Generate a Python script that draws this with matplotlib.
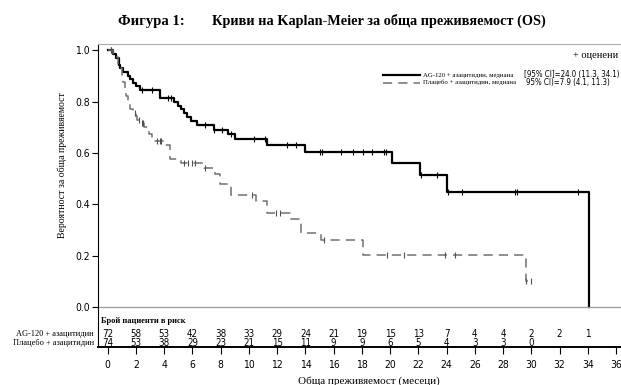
import matplotlib
matplotlib.use('Agg')
import matplotlib.pyplot as plt
from matplotlib.lines import Line2D

# AG-120 + azacitidine: step times and survival after each step
ag_t = [0, 0.4, 0.6, 0.8, 0.9, 1.1, 1.4, 1.6, 1.8, 2.0, 2.3, 3.7, 4.7, 5.0, 5.2, 5.4, 5.6, 5.9, 6.3,
        7.5, 8.5, 9.0, 11.3, 13.95, 20.1, 22.1, 24.0, 34.06]
ag_s = [1.0, 0.986, 0.972, 0.944, 0.93, 0.916, 0.902, 0.888, 0.874, 0.86, 0.845, 0.815, 0.80, 0.785,
        0.77, 0.755, 0.74, 0.725, 0.71, 0.69, 0.675, 0.655, 0.632, 0.605, 0.562, 0.516, 0.45, 0.0]
ag_cens_t = [0.2, 2.4, 3.1, 4.27, 4.5, 6.87, 7.5, 8.1, 8.76, 10.36, 11.17, 12.7, 13.36, 15.06, 15.2,
             16.5, 17.4, 18.1, 18.7, 19.55, 19.7, 22.2, 23.35, 24.1, 25.1, 28.85, 29.0, 33.3]

# Placebo + azacitidine
pl_t = [0, 0.4, 0.5, 0.7, 0.85, 1.0, 1.1, 1.2, 1.3, 1.45, 1.6, 1.8, 2.0, 2.1, 2.3, 2.6, 2.9, 3.1, 3.3,
        4.0, 4.4, 5.2, 6.8, 7.6, 7.95, 8.7, 10.5, 11.3, 12.9, 13.7, 15.1, 18.1, 29.6, 30.0]
pl_s = [1.0, 0.986, 0.973, 0.946, 0.932, 0.905, 0.878, 0.851, 0.824, 0.797, 0.77, 0.757, 0.743, 0.73,
        0.716, 0.702, 0.675, 0.66, 0.647, 0.632, 0.578, 0.56, 0.54, 0.518, 0.48, 0.436, 0.415, 0.365,
        0.343, 0.29, 0.26, 0.204, 0.10, 0.10]
pl_cens_t = [0.2, 1.9, 2.2, 2.4, 2.5, 3.5, 3.7, 3.8, 5.4, 5.7, 6.0, 6.2, 6.9, 10.2, 11.9, 12.2, 15.3,
             19.8, 21.0, 23.9, 24.6, 29.6, 30.0]

risk_times = list(range(0, 37, 2))
ag_risk = [72, 58, 53, 42, 38, 33, 29, 24, 21, 19, 15, 13, 7, 4, 4, 2, 2, 1]
pl_risk = [74, 53, 38, 29, 23, 21, 15, 11, 9, 9, 6, 5, 4, 3, 3, 0]

ag_label = 'AG-120 + азацитидин'
pl_label = 'Плацебо + азацитидин'


def surv_at(ts, ss, t):
    val = ss[0]
    for a, b in zip(ts, ss):
        if a <= t:
            val = b
    return val


narrow = ['Liberation Sans Narrow', 'DejaVu Sans']
serif = ['Liberation Serif', 'DejaVu Serif']
nkw = dict(family=narrow, fontstretch='condensed')

W, H = 621, 385
fig = plt.figure(figsize=(6.21, 3.85), dpi=100)
ax = fig.add_axes([98.3 / W, 1 - 347.3 / H, (640 - 98.3) / W, (347.3 - 44.3) / H])
ax.set_xlim(-0.67, 37.7)
ax.set_ylim(-0.157, 1.024)

ax.step(ag_t, ag_s, where='post', color='black', lw=1.6)
ax.step(pl_t, pl_s, where='post', color='#707070', lw=1.1, dashes=(6, 4))
ax.plot(ag_cens_t, [surv_at(ag_t, ag_s, t) for t in ag_cens_t], ls='none', marker='|',
        ms=5, mew=0.8, color='black')
ax.plot(pl_cens_t, [surv_at(pl_t, pl_s, t) for t in pl_cens_t], ls='none', marker='|',
        ms=5, mew=0.8, color='#505050')

ax.axhline(0, color='#999999', lw=0.9)

ax.spines['right'].set_visible(False)
ax.spines['top'].set_color('#aaaaaa')
ax.spines['left'].set_linewidth(0.8)
ax.spines['bottom'].set_linewidth(1.4)

ax.set_yticks([0, 0.2, 0.4, 0.6, 0.8, 1.0])
ax.set_yticklabels(['%.1f' % v for v in [0, 0.2, 0.4, 0.6, 0.8, 1.0]])
ax.set_xticks(risk_times)
ax.set_xticklabels([str(t) for t in risk_times])
ax.tick_params(axis='both', direction='out', length=4, width=0.8, labelsize=7.5, pad=2)
ax.tick_params(axis='x', length=5, pad=4)
for lab in ax.get_xticklabels() + ax.get_yticklabels():
    lab.set_family(narrow)
    lab.set_fontstretch('condensed')

# number at risk table inside the axes
ax.text(-0.5, -0.053, 'Брой пациенти в риск', fontsize=6, fontweight='bold', family=serif,
        va='center', ha='left')
for row_y, label, vals in [(-0.105, ag_label, ag_risk), (-0.139, pl_label, pl_risk)]:
    ax.text(-1.0, row_y, label, fontsize=6, family=serif, ha='right', va='center', clip_on=False)
    for t, v in zip(risk_times, vals):
        ax.text(t, row_y, str(v), fontsize=7, ha='center', va='center', **nkw)

ax.set_xlabel('Обща преживяемост (месеци)', fontsize=8, family=serif, labelpad=5)
fig.text(62 / W, 1 - 165 / H, 'Вероятност за обща преживяемост', rotation=90, fontsize=7,
         family=serif, ha='center', va='center')

# title
fig.text(118 / W, 1 - 21 / H, 'Фигура 1:', fontsize=10.5, fontweight='bold', family=serif,
         ha='left', va='center')
fig.text(212 / W, 1 - 21 / H, 'Криви на Kaplan-Meier за обща преживяемост (OS)', fontsize=10.3,
         fontweight='bold', family=serif, ha='left', va='center')

# legend block
fig.text(573 / W, 1 - 55 / H, '+ оценени', fontsize=7.5, family=serif, ha='left', va='center')
fig.add_artist(Line2D([383 / W, 420 / W], [1 - 75 / H, 1 - 75 / H], color='black', lw=1.6))
fig.add_artist(Line2D([383 / W, 420 / W], [1 - 83 / H, 1 - 83 / H], color='#707070', lw=1.1,
                      dashes=(6, 4)))
fig.text(423 / W, 1 - 75 / H, ag_label + ', медиана', fontsize=4.9, family=serif, ha='left', va='center')
fig.text(423 / W, 1 - 82.5 / H, pl_label + ', медиана', fontsize=4.9, family=serif, ha='left', va='center')
fig.text(524 / W, 1 - 75 / H, '[95% CI]=24.0 (11.3, 34.1)', fontsize=5.7, ha='left', va='center', **nkw)
fig.text(526 / W, 1 - 83 / H, '95% CI)=7.9 (4.1, 11.3)', fontsize=5.7, ha='left', va='center', **nkw)

fig.savefig('out.png', dpi=100)
